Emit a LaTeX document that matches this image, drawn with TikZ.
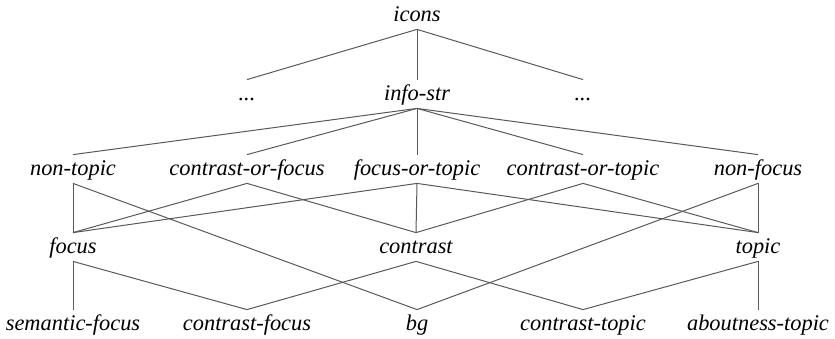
\documentclass[tikz,border=0pt]{standalone}
\usepackage{fontspec}
\setmainfont{Liberation Serif}
\usepackage{tikz}

\begin{document}
\begin{tikzpicture}[x = 0.5pt, y = -0.5pt,
	lbl/.style = {anchor = base, inner xsep = 0pt, inner ysep = 0pt, text height = 10pt, text depth = 4pt, font = \fontsize{11.2}{13}\selectfont\itshape},
	edge/.style = {draw = black!65, line width = 0.5pt}]
	\useasboundingbox (0, 0) rectangle (835, 338);
	
	\node[lbl] (icons) at (417, 21) {icons};
	
	\node[lbl] (dotsl) at (247, 100) {...};
	\node[lbl] (infostr) at (417, 100) {info-str};
	\node[lbl] (dotsr) at (583, 100) {...};
	
	\node[lbl] (nontopic) at (73, 175) {non-topic};
	\node[lbl] (cof) at (247, 175) {contrast-or-focus};
	\node[lbl] (fot) at (417, 175) {focus-or-topic};
	\node[lbl] (cot) at (583, 175) {contrast-or-topic};
	\node[lbl] (nonfocus) at (758, 175) {non-focus};
	
	\node[lbl] (focus) at (73, 253) {focus};
	\node[lbl] (contrast) at (416, 253) {contrast};
	\node[lbl] (topic) at (758, 253) {topic};
	
	\node[lbl] (semfocus) at (73, 330) {semantic-focus};
	\node[lbl] (cfocus) at (247, 330) {contrast-focus};
	\node[lbl] (bg) at (417, 330) {bg};
	\node[lbl] (ctopic) at (583, 330) {contrast-topic};
	\node[lbl] (atopic) at (758, 330) {aboutness-topic};
	
	\foreach \a/\b in {icons/dotsl, icons/infostr, icons/dotsr,
		infostr/nontopic, infostr/cof, infostr/fot, infostr/cot, infostr/nonfocus,
		nontopic/focus, nontopic/bg, cof/focus, cof/contrast,
		fot/focus, fot/contrast, fot/topic, cot/contrast, cot/topic,
		nonfocus/topic, nonfocus/bg,
		focus/semfocus, focus/cfocus, contrast/cfocus, contrast/ctopic,
		topic/ctopic, topic/atopic}
	\draw[edge] (\a.south) -- (\b.north);
\end{tikzpicture}
\end{document}
